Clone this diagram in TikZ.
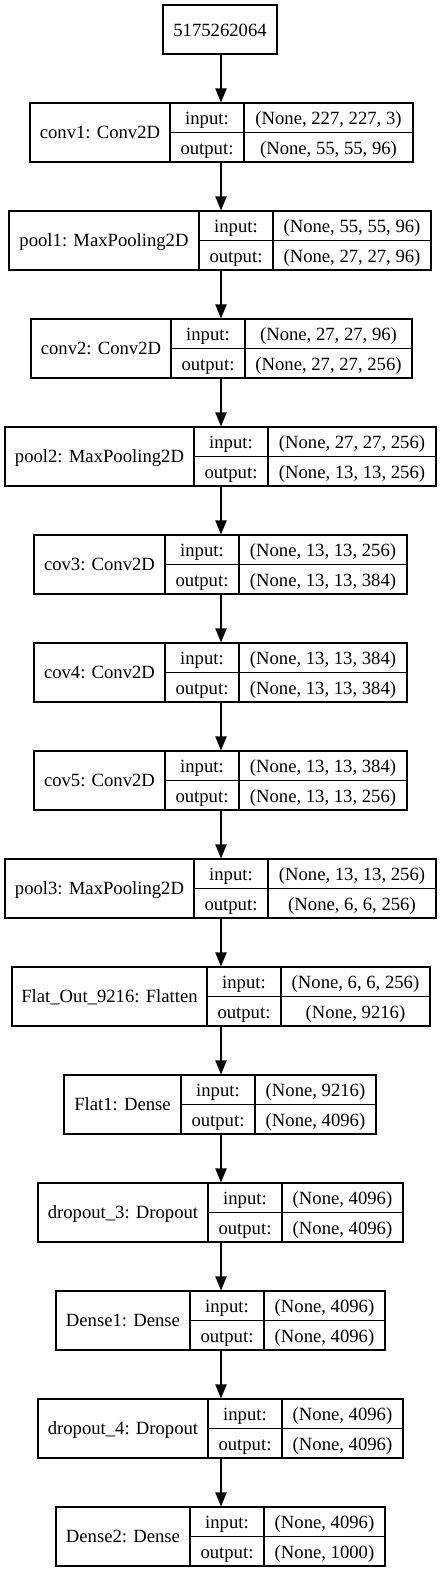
\documentclass[tikz,border=0pt]{standalone}
\usepackage{fontspec}
\setmainfont{Liberation Serif}
\usetikzlibrary{arrows.meta,fit}
\tikzset{
  cellbox/.style={draw, line width=1pt, inner sep=0pt},
  cellline/.style={line width=1pt},
  celltext/.style={anchor=base, inner sep=0pt, font=\fontsize{14}{16.8}\selectfont},
  arr/.style={line width=1pt, -{Triangle[length=10.5pt, width=8.5pt]}}
}
% #1 name, #2 top, #3 x0, #4 div1, #5 div2, #6 x1, #7 label, #8 input, #9 output
\newcommand\kerlayer[9]{%
  \node[cellbox, fit={(#3,#2) (#6,{#2+59})}] (#1) {};
  \draw[cellline] (#4,#2) -- (#4,{#2+59});
  \draw[cellline] (#5,#2) -- (#5,{#2+59});
  \draw[cellline] (#4,{#2+29.5}) -- (#6,{#2+29.5});
  \node[celltext] (#1l) at ({(#3+#4)/2},{#2+35.5}) {#7};
  \node[celltext] (#1a) at ({(#4+#5)/2},{#2+21.5}) {input:};
  \node[celltext] (#1b) at ({(#4+#5)/2},{#2+51}) {output:};
  \node[celltext] (#1c) at ({(#5+#6)/2},{#2+21.5}) {#8};
  \node[celltext] (#1d) at ({(#5+#6)/2},{#2+51}) {#9};
}
\begin{document}
\begin{tikzpicture}[x=0.75pt, y=-0.75pt]
\useasboundingbox (0,0) rectangle (441,1572);
\coordinate (ax) at (221,0);
\node[cellbox, fit={(163,5) (277,54)}] (inp) {};
\node[celltext] (inpt) at (220,36.5) {5175262064};
\kerlayer{conv1}{103}{30}{170}{244}{413}{conv1: Conv2D}{(None, 227, 227, 3)}{(None, 55, 55, 96)}
\kerlayer{pool1}{211}{9}{199}{273}{431}{pool1: MaxPooling2D}{(None, 55, 55, 96)}{(None, 27, 27, 96)}
\kerlayer{conv2}{319}{31}{171}{245}{412}{conv2: Conv2D}{(None, 27, 27, 96)}{(None, 27, 27, 256)}
\kerlayer{pool2}{427}{5}{194}{268}{436}{pool2: MaxPooling2D}{(None, 27, 27, 256)}{(None, 13, 13, 256)}
\kerlayer{cov3}{535}{34}{165}{239}{407}{cov3: Conv2D}{(None, 13, 13, 256)}{(None, 13, 13, 384)}
\kerlayer{cov4}{643}{34}{165}{239}{407}{cov4: Conv2D}{(None, 13, 13, 384)}{(None, 13, 13, 384)}
\kerlayer{cov5}{751}{34}{165}{239}{407}{cov5: Conv2D}{(None, 13, 13, 384)}{(None, 13, 13, 256)}
\kerlayer{pool3}{859}{5}{194}{268}{436}{pool3: MaxPooling2D}{(None, 13, 13, 256)}{(None, 6, 6, 256)}
\kerlayer{flat}{967}{12}{207}{281}{430}{Flat\_Out\_9216: Flatten}{(None, 6, 6, 256)}{(None, 9216)}
\kerlayer{flatone}{1075}{64}{181}{255}{376}{Flat1: Dense}{(None, 9216)}{(None, 4096)}
\kerlayer{dropthree}{1183}{38}{208}{282}{403}{dropout\_3: Dropout}{(None, 4096)}{(None, 4096)}
\kerlayer{denseone}{1291}{56}{190}{264}{385}{Dense1: Dense}{(None, 4096)}{(None, 4096)}
\kerlayer{dropfour}{1399}{38}{208}{282}{403}{dropout\_4: Dropout}{(None, 4096)}{(None, 4096)}
\kerlayer{densetwo}{1507}{56}{190}{264}{385}{Dense2: Dense}{(None, 4096)}{(None, 1000)}
\draw[arr] (inp.south -| ax) -- (conv1.north -| ax);
\draw[arr] (conv1.south -| ax) -- (pool1.north -| ax);
\draw[arr] (pool1.south -| ax) -- (conv2.north -| ax);
\draw[arr] (conv2.south -| ax) -- (pool2.north -| ax);
\draw[arr] (pool2.south -| ax) -- (cov3.north -| ax);
\draw[arr] (cov3.south -| ax) -- (cov4.north -| ax);
\draw[arr] (cov4.south -| ax) -- (cov5.north -| ax);
\draw[arr] (cov5.south -| ax) -- (pool3.north -| ax);
\draw[arr] (pool3.south -| ax) -- (flat.north -| ax);
\draw[arr] (flat.south -| ax) -- (flatone.north -| ax);
\draw[arr] (flatone.south -| ax) -- (dropthree.north -| ax);
\draw[arr] (dropthree.south -| ax) -- (denseone.north -| ax);
\draw[arr] (denseone.south -| ax) -- (dropfour.north -| ax);
\draw[arr] (dropfour.south -| ax) -- (densetwo.north -| ax);
\end{tikzpicture}
\end{document}
